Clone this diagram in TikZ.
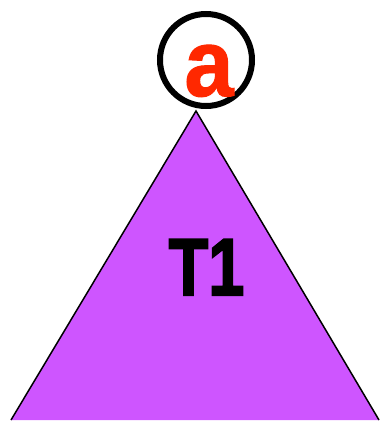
\documentclass[tikz,border=0pt]{standalone}
\usepackage{fontspec}
\setmainfont{Liberation Sans}
\newfontfamily\heavyfont[FakeBold=2.5]{Liberation Sans Bold}
\newfontfamily\midfont[FakeBold=1.2]{Liberation Sans Bold}
\definecolor{trifill}{RGB}{206,85,255}
\definecolor{ared}{RGB}{255,40,0}
\begin{document}
\begin{tikzpicture}[x=1pt,y=-1pt,
  ring/.style={draw=black,line width=6pt,fill=white},
  lbl/.style={inner sep=0pt,anchor=base}]
\useasboundingbox (0,0) rectangle (381,421);
\coordinate (apex) at (196,111);
\coordinate (bl) at (11,420);
\coordinate (br) at (379,420);
\fill[trifill] (apex) -- (bl) -- (br) -- cycle;
\draw[line width=1.5pt] (bl) -- (apex) -- (br);
\node[ring,circle,minimum size=92pt,inner sep=0pt] (c) at (206,60) {};
\node[lbl,text=ared,font=\midfont\fontsize{95}{95}\selectfont] (a) at (209,96) {\scalebox{0.93}[1]{a}};
\node[lbl,font=\heavyfont\fontsize{81}{81}\selectfont] (t) at (206.5,295) {\scalebox{0.8}[1]{T1}};
\end{tikzpicture}
\end{document}
